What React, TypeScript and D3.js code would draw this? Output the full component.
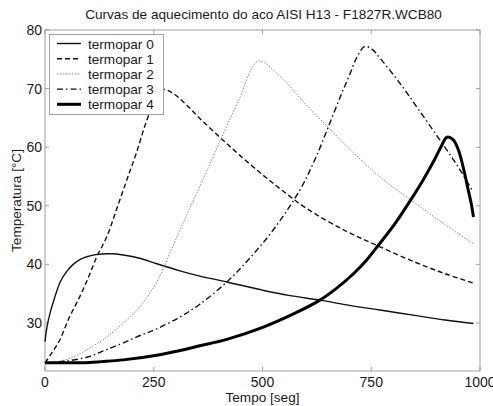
import React from "react";
import * as d3 from "d3";

const title = "Curvas de aquecimento do aco AISI H13 - F1827R.WCB80";
const xLabel = "Tempo [seg]";
const yLabel = "Temperatura [°C]";
const xTicks = [0, 250, 500, 750, 1000];
const yTicks = [30, 40, 50, 60, 70, 80];
const seriesNames = ["termopar 0", "termopar 1", "termopar 2", "termopar 3", "termopar 4"];

const t0 = [0, 5, 12, 20, 35, 50, 65, 80, 96, 120, 149, 180, 220, 257, 310, 356, 418, 500, 560, 632, 700, 770, 850, 920, 985];
const v0 = [26.8, 29.5, 31.8, 33.8, 37.0, 38.8, 40.0, 40.8, 41.3, 41.7, 41.8, 41.6, 41.0, 40.1, 38.9, 38.0, 37.0, 35.6, 34.7, 33.9, 33.0, 32.2, 31.3, 30.5, 29.9];

const t1 = [0, 15, 34, 55, 80, 100, 119, 142, 165, 188, 210, 234, 252, 270, 290, 320, 356, 402, 448, 500, 544, 600, 694, 770, 850, 920, 985];
const v1 = [23.2, 24.8, 27.1, 30.8, 34.5, 37.8, 41.3, 44.7, 49.5, 54.4, 59.0, 64.6, 67.8, 69.8, 69.4, 67.6, 64.9, 61.7, 58.6, 55.3, 52.7, 49.6, 45.6, 43.0, 40.4, 38.4, 36.8];

const t2 = [0, 30, 65, 100, 142, 180, 218, 257, 295, 325, 356, 380, 402, 425, 450, 465, 478, 490, 505, 530, 560, 600, 651, 700, 770, 843, 900, 985];
const v2 = [23.1, 23.4, 24.2, 25.6, 27.6, 30.0, 32.8, 37.0, 43.3, 48.3, 53.3, 57.3, 61.0, 64.8, 68.8, 71.8, 73.8, 74.7, 74.4, 72.8, 70.6, 67.3, 63.4, 59.7, 54.9, 50.9, 47.8, 43.5];

const t3 = [0, 50, 103, 140, 180, 220, 257, 310, 356, 418, 470, 525, 586, 620, 651, 680, 700, 718, 735, 752, 770, 816, 860, 908, 950, 984];
const v3 = [23.2, 23.5, 24.3, 25.4, 26.6, 27.9, 29.0, 31.0, 33.2, 37.0, 41.0, 45.9, 52.7, 57.8, 63.4, 68.8, 72.3, 75.5, 77.2, 76.7, 75.2, 70.9, 66.3, 61.2, 56.6, 52.4];

const t4 = [0, 50, 88, 130, 180, 257, 310, 356, 418, 502, 570, 632, 670, 709, 740, 770, 805, 839, 870, 895, 912, 924, 938, 950, 962, 972, 980, 985];
const v4 = [23.2, 23.2, 23.2, 23.4, 23.7, 24.5, 25.3, 26.1, 27.2, 29.3, 31.5, 33.9, 35.9, 38.4, 40.8, 43.6, 47.0, 50.8, 54.5, 57.8, 60.3, 61.7, 61.3, 59.6, 56.4, 53.0, 50.3, 48.1];

const times = [t0, t1, t2, t3, t4];
const values = [v0, v1, v2, v3, v4];

const styles = [
  { stroke: "#111", width: 1.4, dash: "" },
  { stroke: "#111", width: 1.4, dash: "5,3" },
  { stroke: "#8a8a8a", width: 1, dash: "1.5,1.5" },
  { stroke: "#111", width: 1.4, dash: "6,3,1.5,3" },
  { stroke: "#000", width: 3, dash: "" },
];

const W = 493, H = 406;
const L = 45, R = 480, T = 30, B = 371;
const FONT = "'Liberation Sans', Arial, sans-serif";

export default function App() {
  const x = d3.scaleLinear().domain([0, 1000]).range([L, R]);
  const y = d3.scaleLinear().domain([21.8, 80]).range([B, T]);
  const line = d3
    .line<[number, number]>()
    .x((d) => x(d[0]))
    .y((d) => y(d[1]))
    .curve(d3.curveCatmullRom.alpha(0.5));
  const frame = "#a0a0a0";
  const tl = 4;
  const txt = "#1a1a1a";
  return (
    <svg width={W} height={H} style={{ position: "absolute", left: 0, top: 0, background: "#fff" }} fontFamily={FONT}>
      <rect x={0} y={0} width={W} height={H} fill="#fff" />
      <text x={(L + R) / 2 + 1} y={19} textAnchor="middle" fontSize={13.6} fill={txt}>{title}</text>
      <rect x={L} y={T} width={R - L} height={B - T} fill="#fff" stroke={frame} strokeWidth={1} />
      {xTicks.map((v) => (
        <g key={"xt" + v}>
          <line x1={x(v)} x2={x(v)} y1={B} y2={B - tl} stroke={frame} />
          <line x1={x(v)} x2={x(v)} y1={T} y2={T + tl} stroke={frame} />
          <text x={x(v)} y={387} textAnchor="middle" fontSize={14} fill={txt}>{v}</text>
        </g>
      ))}
      {yTicks.map((v) => (
        <g key={"yt" + v}>
          <line x1={L} x2={L + tl} y1={y(v)} y2={y(v)} stroke={frame} />
          <line x1={R} x2={R - tl} y1={y(v)} y2={y(v)} stroke={frame} />
          <text x={42} y={y(v) + 5} textAnchor="end" fontSize={14} fill={txt}>{v}</text>
        </g>
      ))}
      <text x={(L + R) / 2} y={402} textAnchor="middle" fontSize={13.6} fill={txt}>{xLabel}</text>
      <text transform={`translate(21,${(T + B) / 2}) rotate(-90)`} textAnchor="middle" fontSize={13.6} fill={txt}>{yLabel}</text>
      <g>
        {values.map((vals, i) => (
          <path
            key={"s" + i}
            d={line(vals.map((v, j) => [times[i][j], v] as [number, number])) || ""}
            fill="none"
            stroke={styles[i].stroke}
            strokeWidth={styles[i].width}
            strokeDasharray={styles[i].dash || undefined}
            strokeLinejoin="round"
          />
        ))}
      </g>
      <rect x={49.5} y={34.5} width={114} height={80} fill="#fff" stroke={frame} />
      {seriesNames.map((n, i) => (
        <g key={"lg" + i}>
          <line
            x1={57}
            x2={81}
            y1={43.5 + i * 15.2}
            y2={43.5 + i * 15.2}
            stroke={styles[i].stroke}
            strokeWidth={styles[i].width}
            strokeDasharray={styles[i].dash || undefined}
          />
          <text x={88} y={48.5 + i * 15.2} fontSize={13.6} fill={txt}>{n}</text>
        </g>
      ))}
    </svg>
  );
}
